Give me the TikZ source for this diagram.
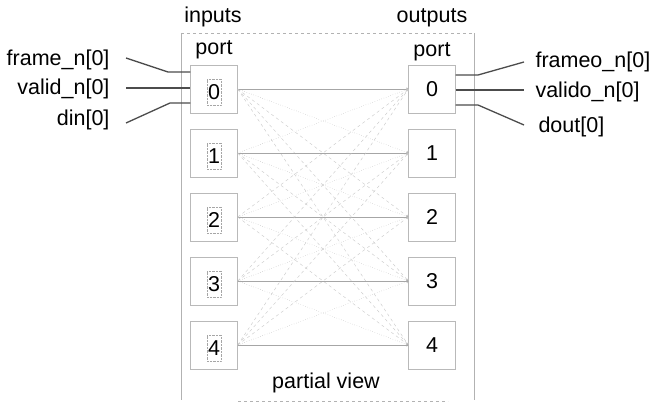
\documentclass[tikz,border=0pt]{standalone}
\usepackage{fontspec}
\setmainfont{Liberation Sans}

\tikzset{
  portbox/.style={draw=gray!55,minimum width=47pt,minimum height=48pt,inner sep=0pt},
  digitframe/.style={draw=gray!70,densely dotted,minimum width=14pt,minimum height=26pt,inner sep=0pt},
  wire/.style={draw=black!70,line width=1.3pt},
  frameline/.style={draw=gray!60,line width=0.5pt},
  direct/.style={->,draw=gray!70,line width=0.4pt},
  near/.style={->,draw=gray!65,line width=0.4pt,dotted},
  far/.style={->,draw=gray!45,line width=0.4pt,dashed}
}

\begin{document}
\begin{tikzpicture}[x=1pt,y=-1pt,font=\fontsize{21.5}{25}\selectfont]
\useasboundingbox (0,0) rectangle (659,406);

% frame
\draw[frameline,dashed] (181,33)--(474,33);
\draw[frameline] (181,33)--(181,400);
\draw[frameline] (474,33)--(474,400);
\draw[frameline,dashed] (238,401)--(448,401);

\node (inlabel) at (213,17) {inputs};
\node (outlabel) at (432,18) {outputs};
\node (inport) at (214,50) {port};
\node (outport) at (432,52) {port};
\node (partial) at (326,383) {partial view};

% input ports
\node[portbox] (in0) at (214,89) {};
\node[portbox] (in1) at (214,153) {};
\node[portbox] (in2) at (214,217) {};
\node[portbox] (in3) at (214,281) {};
\node[portbox] (in4) at (214,345) {};
\node[digitframe] (d0) at (214,92) {0};
\node[digitframe] (d1) at (214,156) {1};
\node[digitframe] (d2) at (214,220) {2};
\node[digitframe] (d3) at (214,284) {3};
\node[digitframe] (d4) at (214,348) {4};

% output ports
\node[portbox] (out0) at (432,89) {0};
\node[portbox] (out1) at (432,153) {1};
\node[portbox] (out2) at (432,217) {2};
\node[portbox] (out3) at (432,281) {3};
\node[portbox] (out4) at (432,345) {4};

% crossbar
\draw[direct] (in0.east)--(out0.west);
\draw[near] (in0.east)--(out1.west);
\draw[far] (in0.east)--(out2.west);
\draw[far] (in0.east)--(out3.west);
\draw[far] (in0.east)--(out4.west);
\draw[near] (in1.east)--(out0.west);
\draw[direct] (in1.east)--(out1.west);
\draw[near] (in1.east)--(out2.west);
\draw[far] (in1.east)--(out3.west);
\draw[far] (in1.east)--(out4.west);
\draw[far] (in2.east)--(out0.west);
\draw[near] (in2.east)--(out1.west);
\draw[direct] (in2.east)--(out2.west);
\draw[near] (in2.east)--(out3.west);
\draw[far] (in2.east)--(out4.west);
\draw[far] (in3.east)--(out0.west);
\draw[far] (in3.east)--(out1.west);
\draw[near] (in3.east)--(out2.west);
\draw[direct] (in3.east)--(out3.west);
\draw[near] (in3.east)--(out4.west);
\draw[far] (in4.east)--(out0.west);
\draw[far] (in4.east)--(out1.west);
\draw[far] (in4.east)--(out2.west);
\draw[near] (in4.east)--(out3.west);
\draw[direct] (in4.east)--(out4.west);

% input signals
\node[anchor=east] (framen) at (113,60) {frame\_n[0]};
\node[anchor=east] (validn) at (113,89) {valid\_n[0]};
\node[anchor=east] (din) at (113,120) {din[0]};
\draw[wire] ([xshift=13pt,yshift=2pt]framen.east)--(168,72)--([yshift=17pt]in0.west);
\draw[wire] ([xshift=13pt,yshift=1pt]validn.east)--([yshift=1pt]in0.west);
\draw[wire] ([xshift=13pt,yshift=-3pt]din.east)--(170,103)--([yshift=-14pt]in0.west);

% output signals
\node[anchor=west] (frameo) at (532,62) {frameo\_n[0]};
\node[anchor=west] (valido) at (532,92) {valido\_n[0]};
\node[anchor=west] (dout) at (535,127) {dout[0]};
\draw[wire] ([yshift=14pt]out0.east)--(478,75)--([xshift=-8pt]frameo.west);
\draw[wire] ([yshift=-1pt]out0.east)--([xshift=-8pt,yshift=2pt]valido.west);
\draw[wire] ([yshift=-16pt]out0.east)--(478,105)--([xshift=-11pt,yshift=2pt]dout.west);

\end{tikzpicture}
\end{document}
